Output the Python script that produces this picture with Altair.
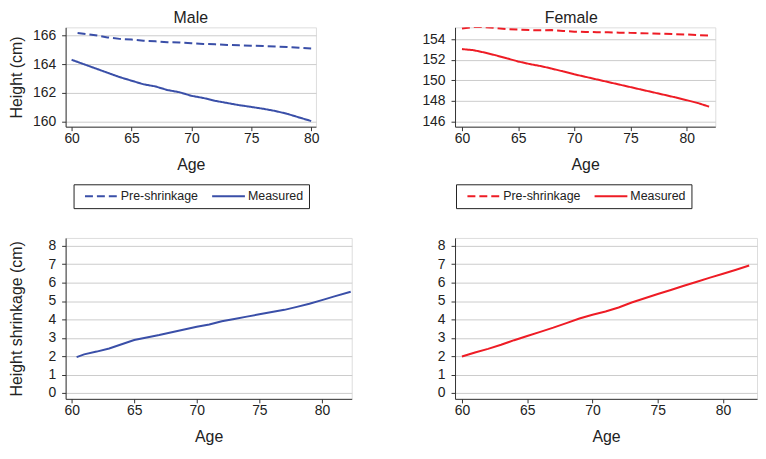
import altair as alt
import pandas as pd

FONT = "Liberation Sans"
BLUE = "#3a4fa8"
RED = "#ee1c25"
TXT = "#222222"
SERIES = ["Pre-shrinkage", "Measured"]

# ---- Male heights ----
male_pre_age = [60.5, 61, 62, 63, 64, 65, 66, 67, 68, 69, 70, 71, 72, 73, 74, 75, 76, 77, 78, 79, 80]
male_pre = [166.15, 166.1, 166.0, 165.85, 165.75, 165.7, 165.62, 165.58, 165.52, 165.5, 165.45,
            165.4, 165.37, 165.33, 165.3, 165.28, 165.25, 165.22, 165.18, 165.13, 165.08]
male_meas_age = [60, 61, 62, 63, 64, 65, 66, 67, 68, 69, 70, 71, 72, 73, 74, 75, 76, 77, 78, 79, 80]
male_meas = [164.3, 164.0, 163.7, 163.4, 163.1, 162.85, 162.6, 162.45, 162.2, 162.05, 161.8,
             161.65, 161.45, 161.3, 161.15, 161.03, 160.9, 160.75, 160.55, 160.3, 160.05]

# ---- Female heights ----
female_age = [60, 61, 62, 63, 64, 65, 66, 67, 68, 69, 70, 71, 72, 73, 74, 75, 76, 77, 78, 79, 80, 81, 82]
female_pre = [155.05, 155.2, 155.2, 155.1, 155.0, 154.95, 154.9, 154.88, 154.9, 154.82, 154.75, 154.72,
              154.7, 154.68, 154.65, 154.63, 154.6, 154.57, 154.55, 154.5, 154.47, 154.42, 154.36]
female_meas = [153.05, 152.95, 152.72, 152.45, 152.15, 151.85, 151.6, 151.4, 151.15, 150.88, 150.6, 150.35,
               150.1, 149.85, 149.6, 149.35, 149.1, 148.85, 148.6, 148.35, 148.08, 147.8, 147.45]

# ---- Shrinkage ----
male_shr_age = [60.4, 61, 62, 63, 64, 65, 66, 67, 68, 69, 70, 71, 72, 73, 74, 75, 76, 77, 78, 79, 80, 81, 82.3]
male_shr = [1.95, 2.1, 2.25, 2.42, 2.65, 2.88, 3.02, 3.15, 3.3, 3.45, 3.6, 3.72, 3.9, 4.02, 4.15, 4.28,
            4.4, 4.52, 4.68, 4.85, 5.05, 5.25, 5.5]
female_shr_age = female_age
female_shr = [1.98, 2.2, 2.4, 2.62, 2.87, 3.1, 3.32, 3.55, 3.8, 4.05, 4.25, 4.43, 4.65, 4.92, 5.15, 5.38,
              5.6, 5.83, 6.05, 6.27, 6.48, 6.7, 6.93]

x_ticks = [60, 65, 70, 75, 80]
male_y_ticks = [160, 162, 164, 166]
female_y_ticks = [146, 148, 150, 152, 154]
shr_ticks = [0, 1, 2, 3, 4, 5, 6, 7, 8]


def x_axis():
    return alt.Axis(values=x_ticks, title="Age", grid=False, labelFont=FONT, labelFontSize=14,
                    labelColor=TXT, titleFont=FONT, titleFontSize=16, titleFontWeight="normal",
                    titleColor=TXT, tickSize=4, labelPadding=1, titlePadding=11, domainColor="#333333",
                    tickColor="#333333", labelFlush=False, labelOverlap=False)


def y_axis(vals, title, extent, title_pad):
    kw = dict(values=vals, grid=True, gridColor="#cccccc", labelFont=FONT, labelFontSize=14,
              labelColor=TXT, tickSize=4, labelPadding=6, domainColor="#333333", tickColor="#333333",
              labelOverlap=False, labelFlush=False)
    if title:
        kw.update(title=title, titleFont=FONT, titleFontSize=16, titleFontWeight="normal",
                  titleColor=TXT, minExtent=extent, maxExtent=extent, titlePadding=title_pad)
    else:
        kw.update(title=None)
    return alt.Axis(**kw)


def height_panel(pre_age, pre, meas_age, meas, color, title, title_dx, ydom, yvals, xdom, width,
                 ytitle, legend_x):
    df = pd.concat([
        pd.DataFrame({"age": pre_age, "height": pre, "series": SERIES[0]}),
        pd.DataFrame({"age": meas_age, "height": meas, "series": SERIES[1]}),
    ])
    leg = alt.Legend(title=None, orient="none", legendX=legend_x, legendY=158, direction="horizontal",
                     strokeColor="#222222", padding=5.5, symbolType="M-3,0H3", symbolSize=121,
                     symbolStrokeWidth=2, symbolOffset=16, labelFont=FONT, labelFontSize=12.5,
                     labelColor=TXT, labelOffset=13, columnPadding=8, cornerRadius=0)
    return alt.Chart(df).mark_line(strokeWidth=2, clip=True).encode(
        x=alt.X("age:Q", scale=alt.Scale(domain=xdom, nice=False, zero=False), axis=x_axis()),
        y=alt.Y("height:Q", scale=alt.Scale(domain=ydom, nice=False, zero=False),
                axis=y_axis(yvals, ytitle, 34, 7)),
        color=alt.Color("series:N", scale=alt.Scale(domain=SERIES, range=[color, color]), legend=leg),
        strokeDash=alt.StrokeDash("series:N", scale=alt.Scale(domain=SERIES, range=[[8, 4], [1, 0]]),
                                  legend=leg),
        detail="series:N",
    ).properties(
        width=width, height=100,
        title=alt.TitleParams(title, font=FONT, fontSize=16, fontWeight="normal", color=TXT,
                              anchor="middle", offset=1, dx=title_dx),
    )


def shrink_panel(age, vals, color, xdom, width, ytitle):
    df = pd.DataFrame({"age": age, "shrink": vals})
    return alt.Chart(df).mark_line(strokeWidth=2, color=color, clip=True).encode(
        x=alt.X("age:Q", scale=alt.Scale(domain=xdom, nice=False, zero=False), axis=x_axis()),
        y=alt.Y("shrink:Q", scale=alt.Scale(domain=[-0.32, 8.43], nice=False, zero=False),
                axis=y_axis(shr_ticks, ytitle, 34, 7)),
    ).properties(width=width, height=162)


tl = height_panel(male_pre_age, male_pre, male_meas_age, male_meas, BLUE, "Male", 0,
                  [159.66, 166.55], male_y_ticks, [59.5, 80.4], 252, "Height (cm)", 8)
tr = height_panel(female_age, female_pre, female_age, female_meas, RED, "Female", -14,
                  [145.5, 155.17], female_y_ticks, [59.38, 82.55], 262, None, 1)
bl = shrink_panel(male_shr_age, male_shr, BLUE, [59.52, 82.38], 288, "Height shrinkage (cm)")
br = shrink_panel(female_shr_age, female_shr, RED, [59.47, 82.6], 304, None)

top = alt.hconcat(tl, tr, spacing=102).resolve_scale(color="independent", strokeDash="independent")
bottom = alt.hconcat(bl, br, spacing=84)

chart = alt.vconcat(top, bottom, spacing=28).resolve_scale(
    color="independent", strokeDash="independent"
).properties(padding=0).configure_view(stroke=None).configure(background="white")

chart.save("out.html", embed_options={"renderer": "svg", "actions": False})
